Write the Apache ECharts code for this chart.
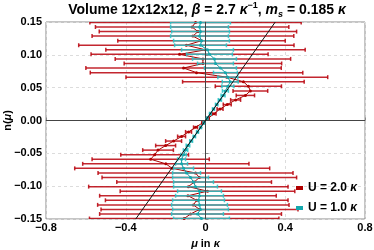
<!DOCTYPE html>
<html><head><meta charset="utf-8">
<script src="https://cdn.jsdelivr.net/npm/echarts@6/dist/echarts.min.js"></script>
<style>html,body{margin:0;padding:0;background:#fff}#c{width:374px;height:250px}</style>
</head><body><div id="c"></div>
<script>
// n(mu) rows (y values)
var nValues = [-0.1493,-0.1424,-0.1354,-0.1285,-0.1215,-0.1146,-0.1076,-0.1007,-0.0938,-0.0868,-0.0799,-0.0729,-0.0660,-0.0590,-0.0521,-0.0451,-0.0382,-0.0313,-0.0243,-0.0174,-0.0104,-0.0035,
  0.0035,0.0104,0.0174,0.0243,0.0313,0.0382,0.0451,0.0521,0.0590,0.0660,0.0729,0.0799,0.0868,0.0938,0.1007,0.1076,0.1146,0.1215,0.1285,0.1354,0.1424,0.1493];
// U = 2.0 kappa
var redMu = [-0.107,-0.075,-0.030,-0.061,-0.044,-0.088,0.010,-0.086,-0.057,-0.031,-0.050,-0.167,-0.199,-0.275,-0.255,-0.238,-0.200,-0.160,-0.120,-0.085,-0.050,-0.014,
  0.014,0.043,0.073,0.109,0.151,0.200,0.225,0.215,0.190,0.107,-0.045,-0.110,-0.013,-0.013,-0.130,0.000,-0.096,-0.020,-0.063,-0.038,-0.067,-0.050];
var redErr = [0.475,0.456,0.494,0.480,0.458,0.443,0.438,0.500,0.388,0.488,0.489,0.489,0.417,0.294,0.170,0.077,0.050,0.040,0.020,0.015,0.010,0.005,
  0.005,0.010,0.015,0.020,0.025,0.046,0.087,0.166,0.305,0.506,0.533,0.490,0.395,0.440,0.444,0.500,0.540,0.420,0.506,0.495,0.485,0.530];
// U = 1.0 kappa
var cyanMu = [-0.020,-0.040,-0.025,-0.030,-0.035,-0.030,-0.030,-0.050,-0.060,-0.075,-0.095,-0.110,-0.120,-0.120,-0.110,-0.100,-0.088,-0.072,-0.056,-0.040,-0.024,-0.008,
  0.008,0.024,0.040,0.056,0.072,0.088,0.100,0.112,0.124,0.112,0.100,0.075,0.050,0.045,0.020,0.010,-0.025,-0.020,-0.030,-0.025,-0.030,-0.025];
var cyanErr = [0.140,0.130,0.140,0.140,0.130,0.120,0.110,0.110,0.100,0.090,0.070,0.050,0.030,0.020,0.014,0.011,0.009,0.007,0.006,0.005,0.004,0.003,
  0.003,0.004,0.005,0.006,0.008,0.010,0.015,0.030,0.040,0.050,0.060,0.080,0.090,0.110,0.115,0.130,0.130,0.140,0.145,0.145,0.145,0.150];
// reference line
var refMu = [-0.35, 0.35];
var refN = [-0.15, 0.15];
var xTicks = ['\u22120.8','\u22120.4','0','0.4','0.8'];
var yTicks = ['\u22120.15','\u22120.10','\u22120.05','0.00','0.05','0.10','0.15'];
var seriesNames = ['U = 2.0 \u03ba', 'U = 1.0 \u03ba'];

function pts(mu){ return nValues.map(function(n,i){ return [mu[i], n]; }); }
function errData(mu, err){ return nValues.map(function(n,i){ return [mu[i]-err[i], mu[i]+err[i], n]; }); }
function errSeries(mu, err, color, z){
  return {
    type:'custom', z:z, silent:true,
    data: errData(mu, err),
    encode:{x:[0,1], y:2},
    renderItem: function(params, api){
      var a = api.coord([api.value(0), api.value(2)]);
      var b = api.coord([api.value(1), api.value(2)]);
      var h = 2;
      var st = {stroke:color, lineWidth:1.5};
      return {type:'group', children:[
        {type:'line', shape:{x1:a[0],y1:a[1],x2:b[0],y2:b[1]}, style:st},
        {type:'line', shape:{x1:a[0],y1:a[1]-h,x2:a[0],y2:a[1]+h}, style:st},
        {type:'line', shape:{x1:b[0],y1:b[1]-h,x2:b[0],y2:b[1]+h}, style:st}
      ]};
    },
    clip:true
  };
}
var chart = echarts.init(document.getElementById('c'), null, {renderer:'canvas'});
var FONT = 'Liberation Sans';
chart.setOption({
  animation:false,
  textStyle:{fontFamily:FONT},
  title:{
    text:'Volume 12x12x12, {i|\u03b2} = 2.7 {i|\u03ba}{sup|\u22121}, {i|m}{sub|s} = 0.185 {i|\u03ba}',
    left:207, top:1, textAlign:'center', padding:0,
    textStyle:{fontFamily:FONT, fontSize:14, fontWeight:'bold', color:'#000', lineHeight:18,
      rich:{
        i:{fontFamily:FONT, fontSize:14, fontWeight:'bold', fontStyle:'italic', color:'#000', lineHeight:18},
        sup:{fontFamily:FONT, fontSize:9, fontWeight:'bold', color:'#000', verticalAlign:'top', lineHeight:10},
        sub:{fontFamily:FONT, fontSize:9, fontWeight:'bold', fontStyle:'italic', color:'#000', verticalAlign:'bottom', lineHeight:12, padding:[6,0,0,0]}
      }}
  },
  grid:{left:46, right:9, top:22, bottom:31, containLabel:false, outerBoundsMode:'none', show:true, borderColor:'#8a8a8a', borderWidth:1},
  legend:{
    data:seriesNames, orient:'vertical', left:296, top:182, itemGap:8,
    itemWidth:7, itemHeight:4, icon:'rect', padding:0,
    formatter:function(n){ return n.replace('\u03ba','{i|\u03ba}'); },
    textStyle:{fontFamily:FONT, fontSize:12, fontWeight:'bold', color:'#000',
      rich:{i:{fontFamily:FONT, fontSize:12, fontWeight:'bold', fontStyle:'italic', color:'#000'}}}
  },
  xAxis:{
    type:'value', min:-0.8, max:0.8, interval:0.4,
    name:'{i|\u03bc} in {i|\u03ba}', nameLocation:'middle', nameGap:19, nameMoveOverlap:false,
    nameTextStyle:{fontFamily:FONT, fontSize:11, fontWeight:'bold', color:'#000',
      rich:{i:{fontFamily:FONT, fontSize:11, fontWeight:'bold', fontStyle:'italic', color:'#000'}}},
    axisLine:{lineStyle:{color:'#8a8a8a'}},
    axisTick:{inside:true, length:3, lineStyle:{color:'#8a8a8a'}},
    axisLabel:{fontFamily:FONT, fontSize:11, fontWeight:'bold', color:'#000', margin:3, hideOverlap:false,
      formatter:function(v){ var i=Math.round((v+0.8)/0.4); return xTicks[i]; }},
    splitLine:{show:true, lineStyle:{color:'#dcdcdc', type:[3,3], width:1}}
  },
  yAxis:{
    type:'value', min:-0.15, max:0.15, interval:0.05,
    name:'n({i|\u03bc})', nameLocation:'middle', nameGap:33, nameRotate:90, nameMoveOverlap:false,
    nameTextStyle:{fontFamily:FONT, fontSize:11, fontWeight:'bold', color:'#000',
      rich:{i:{fontFamily:FONT, fontSize:11, fontWeight:'bold', fontStyle:'italic', color:'#000'}}},
    axisLine:{lineStyle:{color:'#8a8a8a'}},
    axisTick:{inside:true, length:3, lineStyle:{color:'#8a8a8a'}},
    axisLabel:{fontFamily:FONT, fontSize:11, fontWeight:'bold', color:'#000', margin:4, hideOverlap:false,
      formatter:function(v){ var i=Math.round((v+0.15)/0.05); return yTicks[i]; }},
    splitLine:{show:true, lineStyle:{color:'#dcdcdc', type:[3,3], width:1}}
  },
  series:[
    errSeries(redMu, redErr, 'rgba(185,0,10,0.85)', 2),
    {type:'line', name:seriesNames[0], data:pts(redMu), z:3, color:'#b00000',
     lineStyle:{color:'#a80000', width:1}, symbol:'circle', symbolSize:3,
     itemStyle:{color:'#b00000'}, silent:true},
    errSeries(cyanMu, cyanErr, 'rgba(40,195,200,0.85)', 4),
    {type:'line', name:seriesNames[1], data:pts(cyanMu), z:5, color:'#14a8ad',
     lineStyle:{color:'#109da3', width:1}, symbol:'circle', symbolSize:3,
     itemStyle:{color:'#14a8ad'}, silent:true},
    {type:'line', data:[[refMu[0],refN[0]],[refMu[1],refN[1]]], z:6, symbol:'none',
     lineStyle:{color:'#111', width:1}, silent:true,
     markLine:{silent:true, symbol:'none', label:{show:false}, animation:false,
       lineStyle:{color:'#444', width:1, type:'solid'},
       data:[{xAxis:0},{yAxis:0}]}}
  ]
});
</script></body></html>
